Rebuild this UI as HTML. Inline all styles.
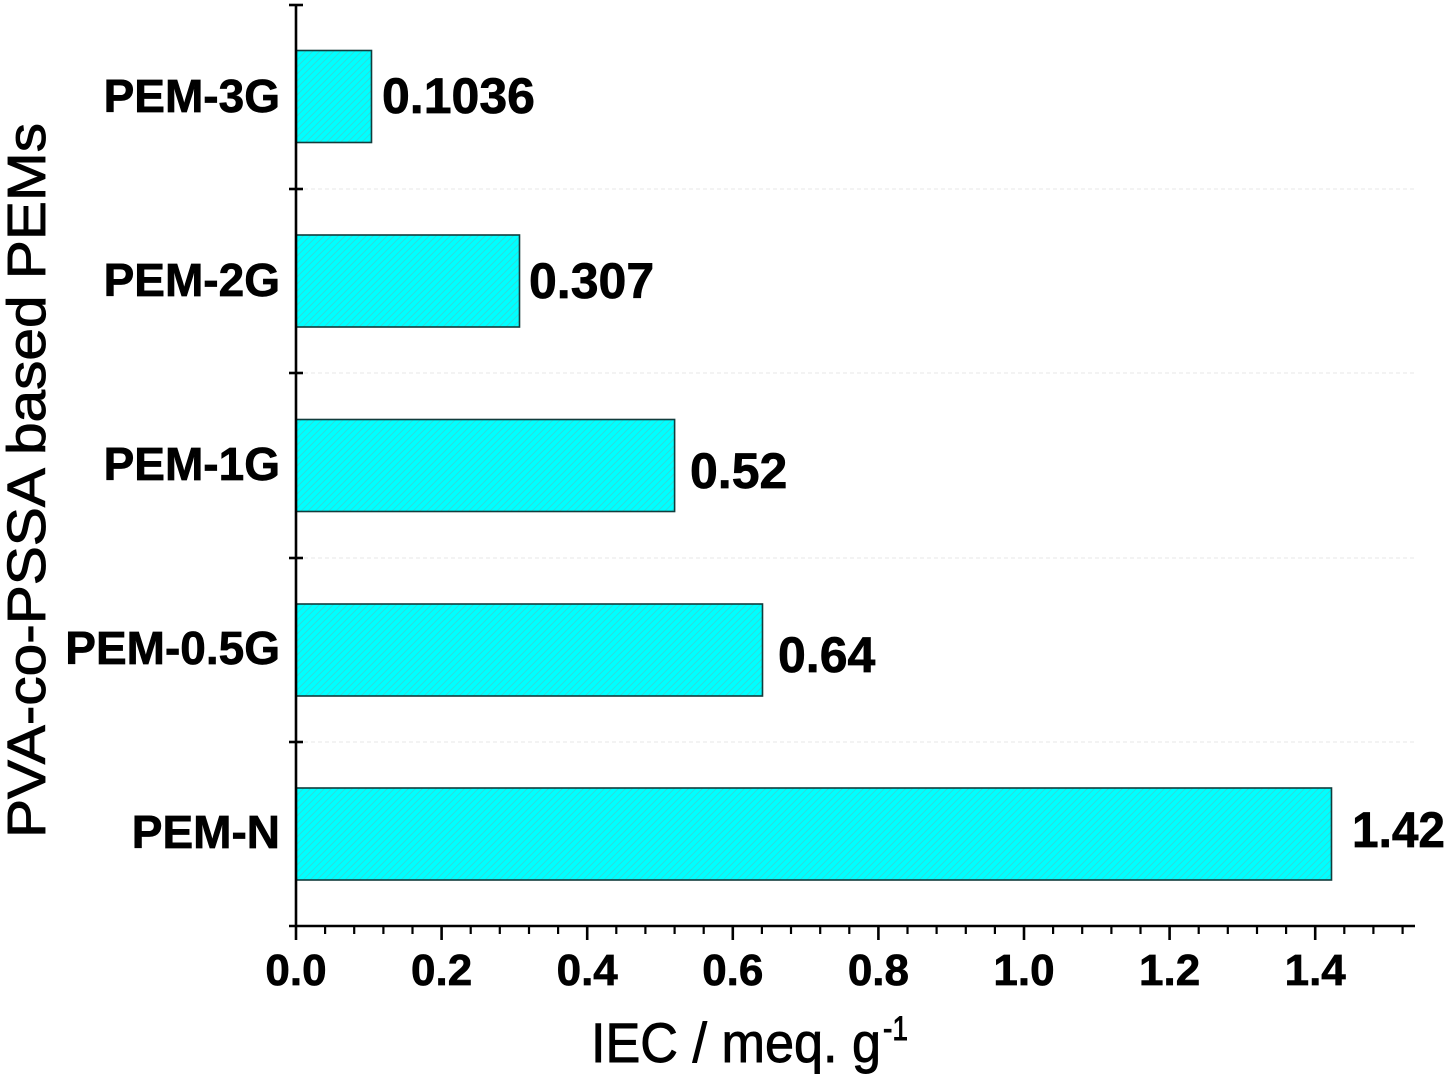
<!DOCTYPE html>
<html>
<head>
<meta charset="utf-8">
<style>
  html, body { margin: 0; padding: 0; background: #ffffff; }
  body { width: 1456px; height: 1076px; overflow: hidden; }
  svg { display: block; }
  text { font-family: "Liberation Sans", Arial, sans-serif; fill: #000; }
  .b { font-weight: bold; stroke: #000; stroke-width: 0.7; }
  .r { stroke: #000; stroke-width: 0.9; }
</style>
</head>
<body>
<svg width="1456" height="1076" viewBox="0 0 1456 1076" xmlns="http://www.w3.org/2000/svg">
  <defs>
    <pattern id="hatch" patternUnits="userSpaceOnUse" width="7" height="7">
      <rect width="7" height="7" fill="#00ffff"/>
      <path d="M-1,8 L8,-1 M-1,1 L1,-1 M6,8 L8,6" stroke="#33dada" stroke-width="0.9"/>
    </pattern>
  </defs>
  <rect width="1456" height="1076" fill="#ffffff"/>

  <!-- faint gridlines -->
  <g stroke="#ececec" stroke-width="1.2" stroke-dasharray="4,3">
    <line x1="297" y1="189" x2="1414" y2="189"/>
    <line x1="297" y1="373" x2="1414" y2="373"/>
    <line x1="297" y1="558" x2="1414" y2="558"/>
    <line x1="297" y1="742" x2="1414" y2="742"/>
  </g>

  <!-- bars -->
  <g fill="url(#hatch)" stroke="#123c3c" stroke-width="1.6">
    <rect x="296" y="50.5" width="75.5" height="92"/>
    <rect x="296" y="235" width="223.5" height="92"/>
    <rect x="296" y="419.5" width="378.6" height="92"/>
    <rect x="296" y="604" width="466.5" height="92"/>
    <rect x="296" y="788" width="1035.5" height="92"/>
  </g>

  <!-- axes -->
  <g stroke="#000" stroke-width="2.6" fill="none">
    <line x1="296" y1="4" x2="296" y2="927"/>
    <line x1="289" y1="926" x2="1415" y2="926"/>
    <line x1="289" y1="5" x2="303" y2="5"/>
    <line x1="289" y1="189" x2="303" y2="189"/>
    <line x1="289" y1="373" x2="303" y2="373"/>
    <line x1="289" y1="558" x2="303" y2="558"/>
    <line x1="289" y1="742" x2="303" y2="742"/>
  </g>
  <!-- x major ticks -->
  <g stroke="#000" stroke-width="2.6">
    <line x1="296" y1="926" x2="296" y2="940"/>
    <line x1="441.6" y1="926" x2="441.6" y2="940"/>
    <line x1="587.2" y1="926" x2="587.2" y2="940"/>
    <line x1="732.8" y1="926" x2="732.8" y2="940"/>
    <line x1="878.4" y1="926" x2="878.4" y2="940"/>
    <line x1="1024" y1="926" x2="1024" y2="940"/>
    <line x1="1169.6" y1="926" x2="1169.6" y2="940"/>
    <line x1="1315.2" y1="926" x2="1315.2" y2="940"/>
  </g>
  <!-- x minor ticks -->
  <g stroke="#000" stroke-width="2.2">
    <line x1="325.1" y1="926" x2="325.1" y2="934"/>
    <line x1="354.2" y1="926" x2="354.2" y2="934"/>
    <line x1="383.4" y1="926" x2="383.4" y2="934"/>
    <line x1="412.5" y1="926" x2="412.5" y2="934"/>
    <line x1="470.7" y1="926" x2="470.7" y2="934"/>
    <line x1="499.8" y1="926" x2="499.8" y2="934"/>
    <line x1="529.0" y1="926" x2="529.0" y2="934"/>
    <line x1="558.1" y1="926" x2="558.1" y2="934"/>
    <line x1="616.3" y1="926" x2="616.3" y2="934"/>
    <line x1="645.4" y1="926" x2="645.4" y2="934"/>
    <line x1="674.6" y1="926" x2="674.6" y2="934"/>
    <line x1="703.7" y1="926" x2="703.7" y2="934"/>
    <line x1="761.9" y1="926" x2="761.9" y2="934"/>
    <line x1="791.0" y1="926" x2="791.0" y2="934"/>
    <line x1="820.2" y1="926" x2="820.2" y2="934"/>
    <line x1="849.3" y1="926" x2="849.3" y2="934"/>
    <line x1="907.5" y1="926" x2="907.5" y2="934"/>
    <line x1="936.6" y1="926" x2="936.6" y2="934"/>
    <line x1="965.8" y1="926" x2="965.8" y2="934"/>
    <line x1="994.9" y1="926" x2="994.9" y2="934"/>
    <line x1="1053.1" y1="926" x2="1053.1" y2="934"/>
    <line x1="1082.2" y1="926" x2="1082.2" y2="934"/>
    <line x1="1111.4" y1="926" x2="1111.4" y2="934"/>
    <line x1="1140.5" y1="926" x2="1140.5" y2="934"/>
    <line x1="1198.7" y1="926" x2="1198.7" y2="934"/>
    <line x1="1227.8" y1="926" x2="1227.8" y2="934"/>
    <line x1="1257.0" y1="926" x2="1257.0" y2="934"/>
    <line x1="1286.1" y1="926" x2="1286.1" y2="934"/>
    <line x1="1344.3" y1="926" x2="1344.3" y2="934"/>
    <line x1="1373.4" y1="926" x2="1373.4" y2="934"/>
    <line x1="1402.6" y1="926" x2="1402.6" y2="934"/>
  </g>

  <!-- x tick labels -->
  <g font-size="44" text-anchor="middle">
    <text class="b" x="296" y="985">0.0</text>
    <text class="b" x="441.6" y="985">0.2</text>
    <text class="b" x="587.2" y="985">0.4</text>
    <text class="b" x="732.8" y="985">0.6</text>
    <text class="b" x="878.4" y="985">0.8</text>
    <text class="b" x="1024" y="985">1.0</text>
    <text class="b" x="1169.6" y="985">1.2</text>
    <text class="b" x="1315.2" y="985">1.4</text>
  </g>

  <!-- category labels -->
  <g font-size="46" text-anchor="end">
    <text class="b" x="280" y="112">PEM-3G</text>
    <text class="b" x="280" y="296">PEM-2G</text>
    <text class="b" x="280" y="480">PEM-1G</text>
    <text class="b" x="280" y="664">PEM-0.5G</text>
    <text class="b" x="280" y="848">PEM-N</text>
  </g>

  <!-- value labels -->
  <g font-size="50">
    <text class="b" x="382" y="113">0.1036</text>
    <text class="b" x="529" y="298">0.307</text>
    <text class="b" x="690" y="488">0.52</text>
    <text class="b" x="778" y="672">0.64</text>
    <text class="b" x="1352" y="847" textLength="93" lengthAdjust="spacingAndGlyphs">1.42</text>
  </g>

  <!-- axis titles -->
  <text class="r" x="45" y="838" font-size="54" transform="rotate(-90 45 838)" textLength="715" lengthAdjust="spacingAndGlyphs">PVA-co-PSSA based PEMs</text>

  <text class="r" x="591" y="1062" font-size="56" textLength="290" lengthAdjust="spacingAndGlyphs">IEC / meq. g</text>
  <text class="r" x="883" y="1040" font-size="34" textLength="25" lengthAdjust="spacingAndGlyphs">-1</text>
</svg>
</body>
</html>
